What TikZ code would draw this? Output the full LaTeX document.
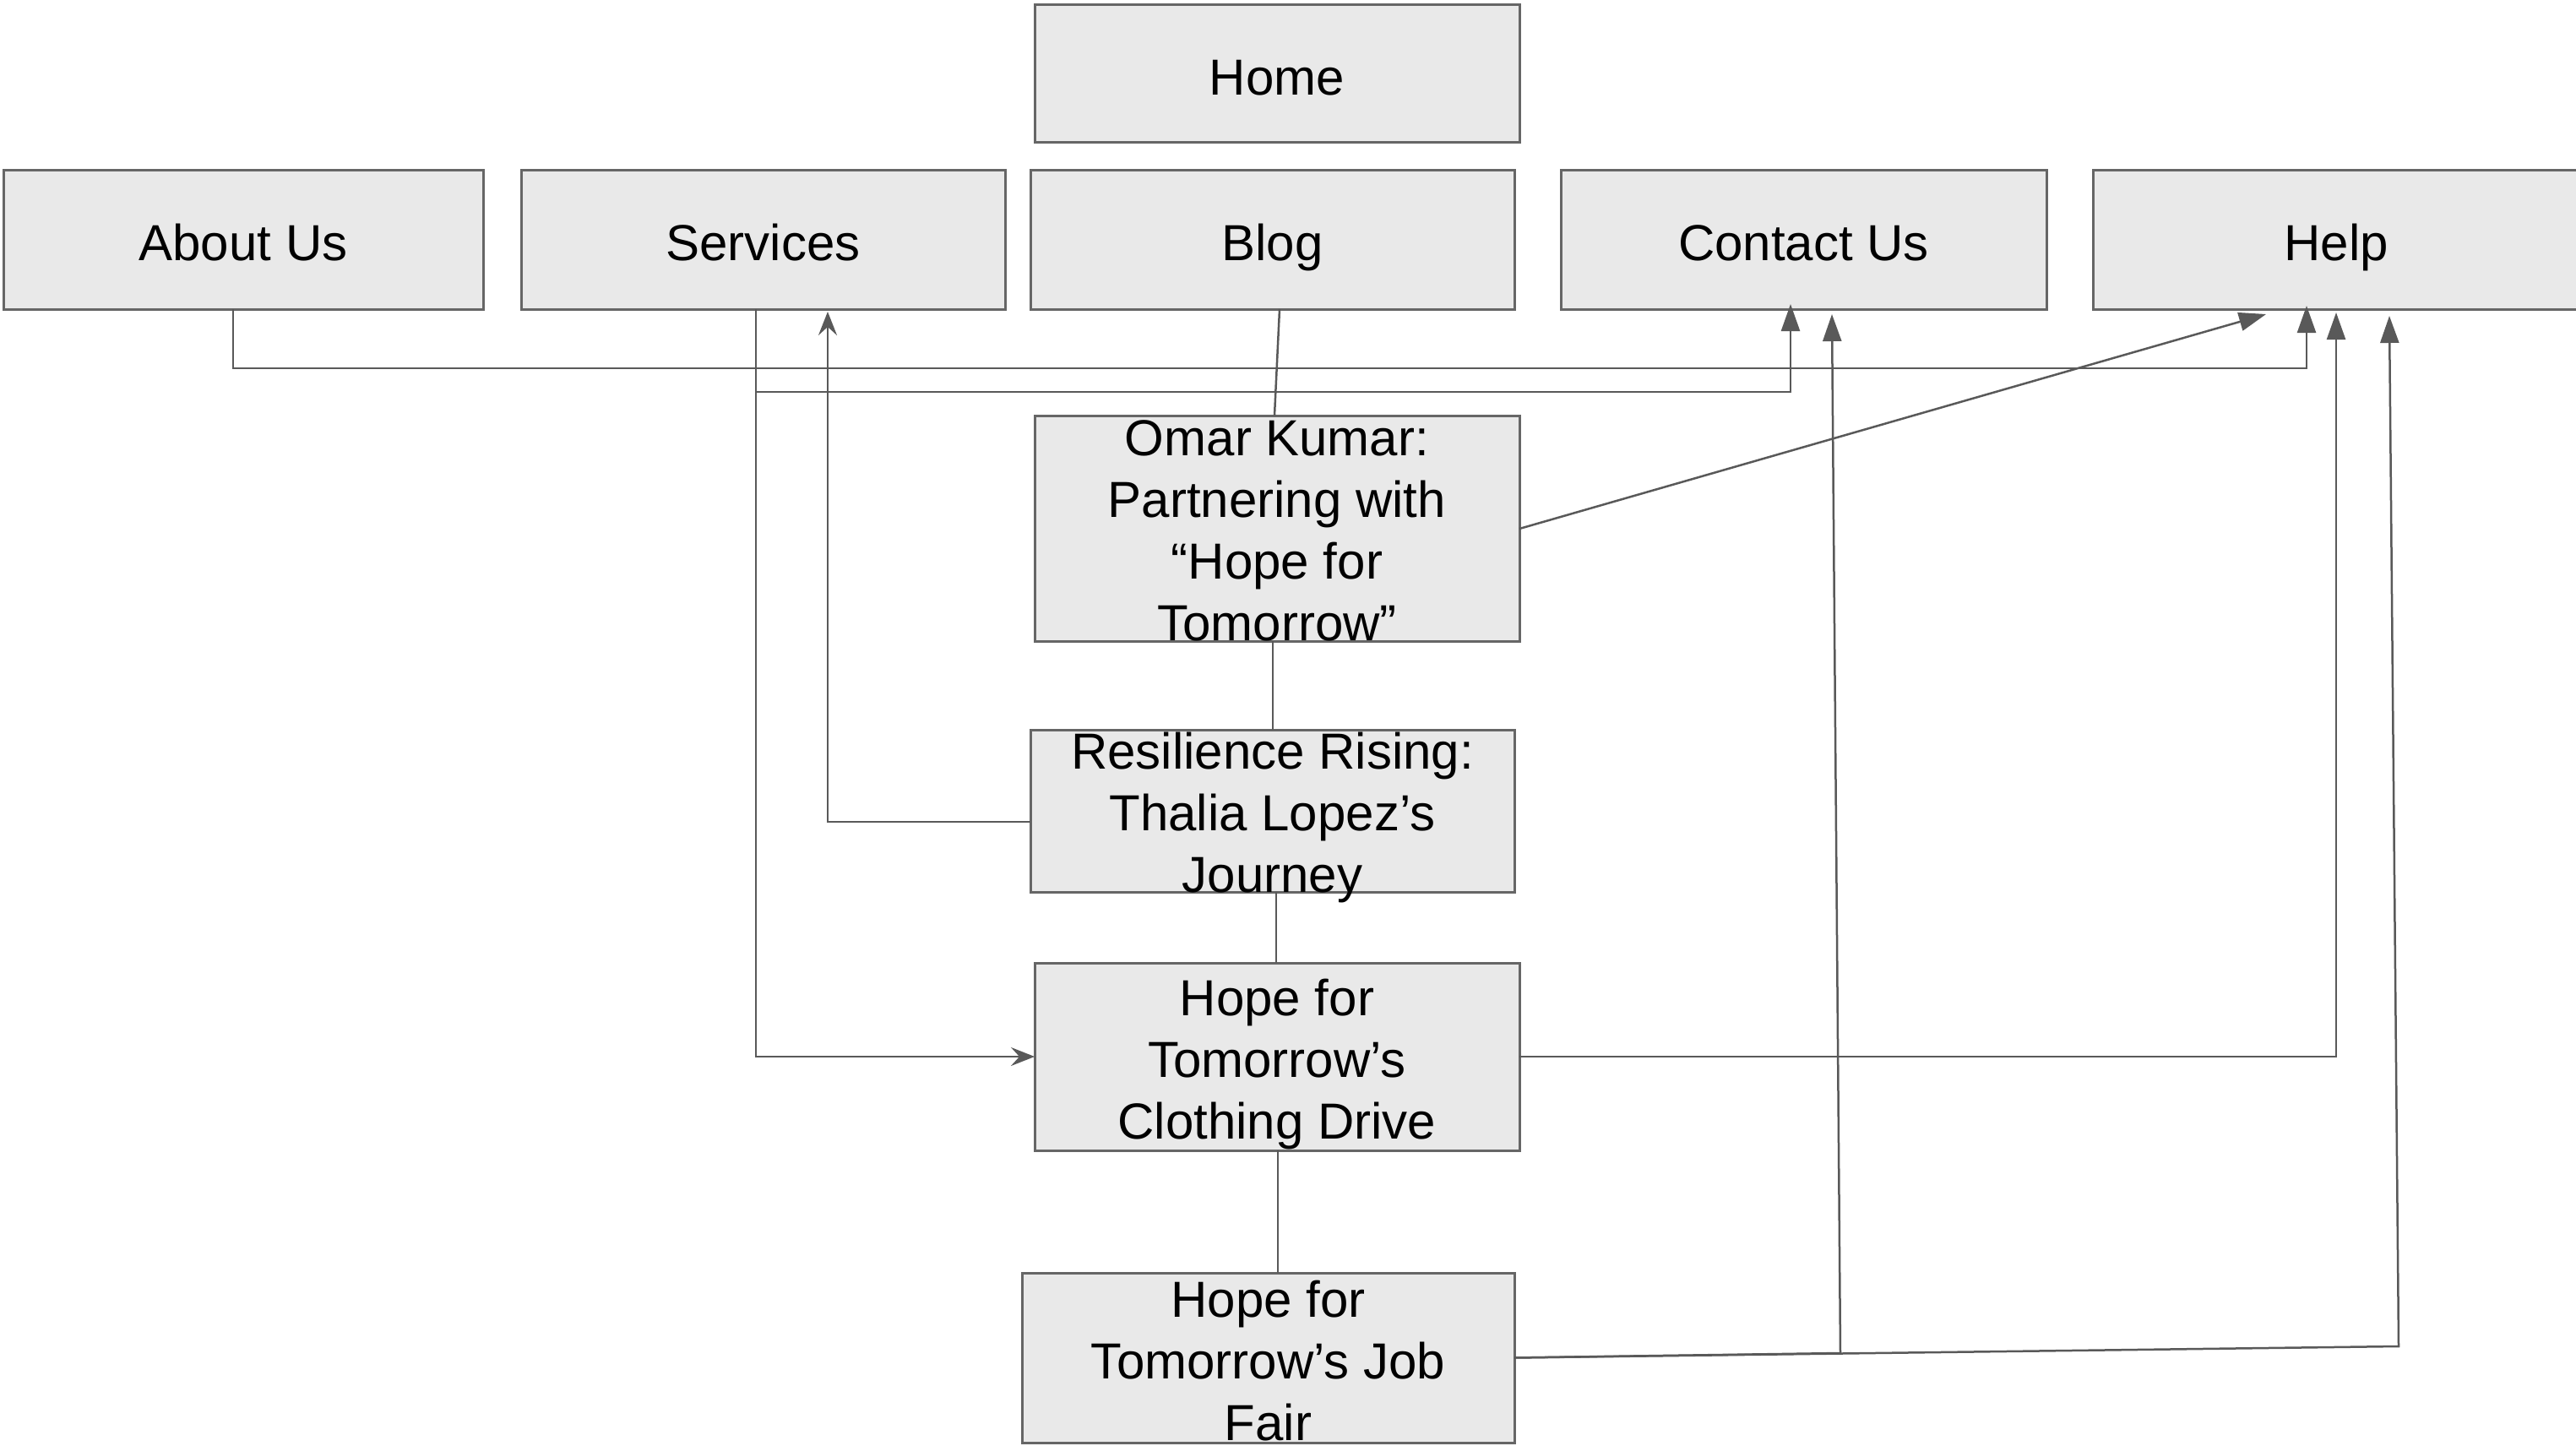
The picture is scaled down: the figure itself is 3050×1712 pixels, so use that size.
\documentclass[tikz,border=0pt]{standalone}
\usepackage{fontspec}
\setmainfont{Liberation Sans}
\usetikzlibrary{arrows.meta}
\definecolor{boxfill}{HTML}{E9E9E9}
\definecolor{boxline}{HTML}{666666}
\definecolor{linegray}{HTML}{595959}
\begin{document}
\begin{tikzpicture}[x=1pt,y=-1pt,
  box/.style={draw=boxline, fill=boxfill, line width=3pt, inner sep=0pt, outer sep=0pt},
  txt/.style={align=center, font=\fontsize{60}{73}\selectfont, inner sep=0pt, text=black},
  ltxt/.style={txt, anchor=base},
  link/.style={draw=linegray, line width=2.5pt},
  tri/.style={link, -{Triangle[length=32pt,width=22pt]}},
  stl/.style={link, -{Stealth[length=28pt,width=22pt,inset=10pt]}}]
\useasboundingbox (0,0) rectangle (3050,1712);
\clip (0,0) rectangle (3050,1712);
% boxes
\node[box, minimum width=574pt, minimum height=163pt] (home) at (1512,87.5) {};
\node[box, minimum width=568pt, minimum height=164pt] (about) at (288,284) {};
\node[box, minimum width=573pt, minimum height=164pt] (services) at (903.5,284) {};
\node[box, minimum width=573pt, minimum height=164pt] (blog) at (1506.5,284) {};
\node[box, minimum width=575pt, minimum height=164pt] (contact) at (2135.5,284) {};
\node[box, minimum width=576pt, minimum height=164pt] (help) at (2766,284) {};
\node[box, minimum width=574pt, minimum height=267pt] (omar) at (1512,625.5) {};
\node[box, minimum width=573pt, minimum height=192pt] (resil) at (1506.5,960) {};
\node[box, minimum width=574pt, minimum height=222pt] (cloth) at (1512,1251) {};
\node[box, minimum width=583pt, minimum height=201pt] (job) at (1501.5,1607.5) {};
% connectors
\draw[tri] ([xshift=-12pt]about.south) -- ++(0,70) -| ([xshift=-35pt,yshift=4pt]help.south);
\draw[tri] ([xshift=-8.5pt]services.south) -- ++(0,98) -| ([xshift=-15.5pt,yshift=6pt]contact.south);
\draw[stl] ([xshift=-8.5pt]services.south) |- (cloth.west);
\draw[stl] ([yshift=-13pt]resil.west) -| ([xshift=76.5pt,yshift=-3pt]services.south);
\draw[link] ([xshift=8.5pt]blog.south) -- ([xshift=-3pt]omar.north);
\draw[link] ([xshift=-5pt]omar.south) -- ([xshift=0.5pt]resil.north);
\draw[link] ([xshift=4.5pt]resil.south) -- ([xshift=-1pt]cloth.north);
\draw[link] ([xshift=1pt]cloth.south) -- ([xshift=11.5pt]job.north);
\draw[tri] ([yshift=-0.5pt]omar.east) -- ([xshift=-83pt,yshift=-6pt]help.south);
\draw[tri] (cloth.east) -| ([xshift=0pt,yshift=-4pt]help.south);
\coordinate (jc) at (2179,1602);
\coordinate (jr) at (2840,1594);
\draw[tri] (job.east) -- (jc) -- ([xshift=33.5pt,yshift=-6pt]contact.south);
\draw[tri] (job.east) -- (jr) -- ([xshift=63pt,yshift=-8pt]help.south);
% texts
\node[ltxt] (homet) at ([yshift=-25pt]home.center) {Home};
\node[ltxt] (aboutt) at ([yshift=-25pt]about.center) {About Us};
\node[ltxt] (servicest) at ([yshift=-25pt]services.center) {Services};
\node[ltxt] (blogt) at ([yshift=-25pt]blog.center) {Blog};
\node[ltxt] (contactt) at ([yshift=-25pt]contact.center) {Contact Us};
\node[ltxt] (helpt) at ([yshift=-25pt]help.center) {Help};
\node[txt] (omart) at (1512,628) {Omar Kumar:\\Partnering with\\“Hope for\\Tomorrow”};
\node[txt] (resilt) at (1506.5,968) {Resilience Rising:\\Thalia Lopez’s\\Journey};
\node[txt] (clotht) at (1512,1260) {Hope for\\Tomorrow’s\\Clothing Drive};
\node[txt] (jobt) at (1501.5,1611) {Hope for\\Tomorrow’s Job\\Fair};
\end{tikzpicture}
\end{document}
